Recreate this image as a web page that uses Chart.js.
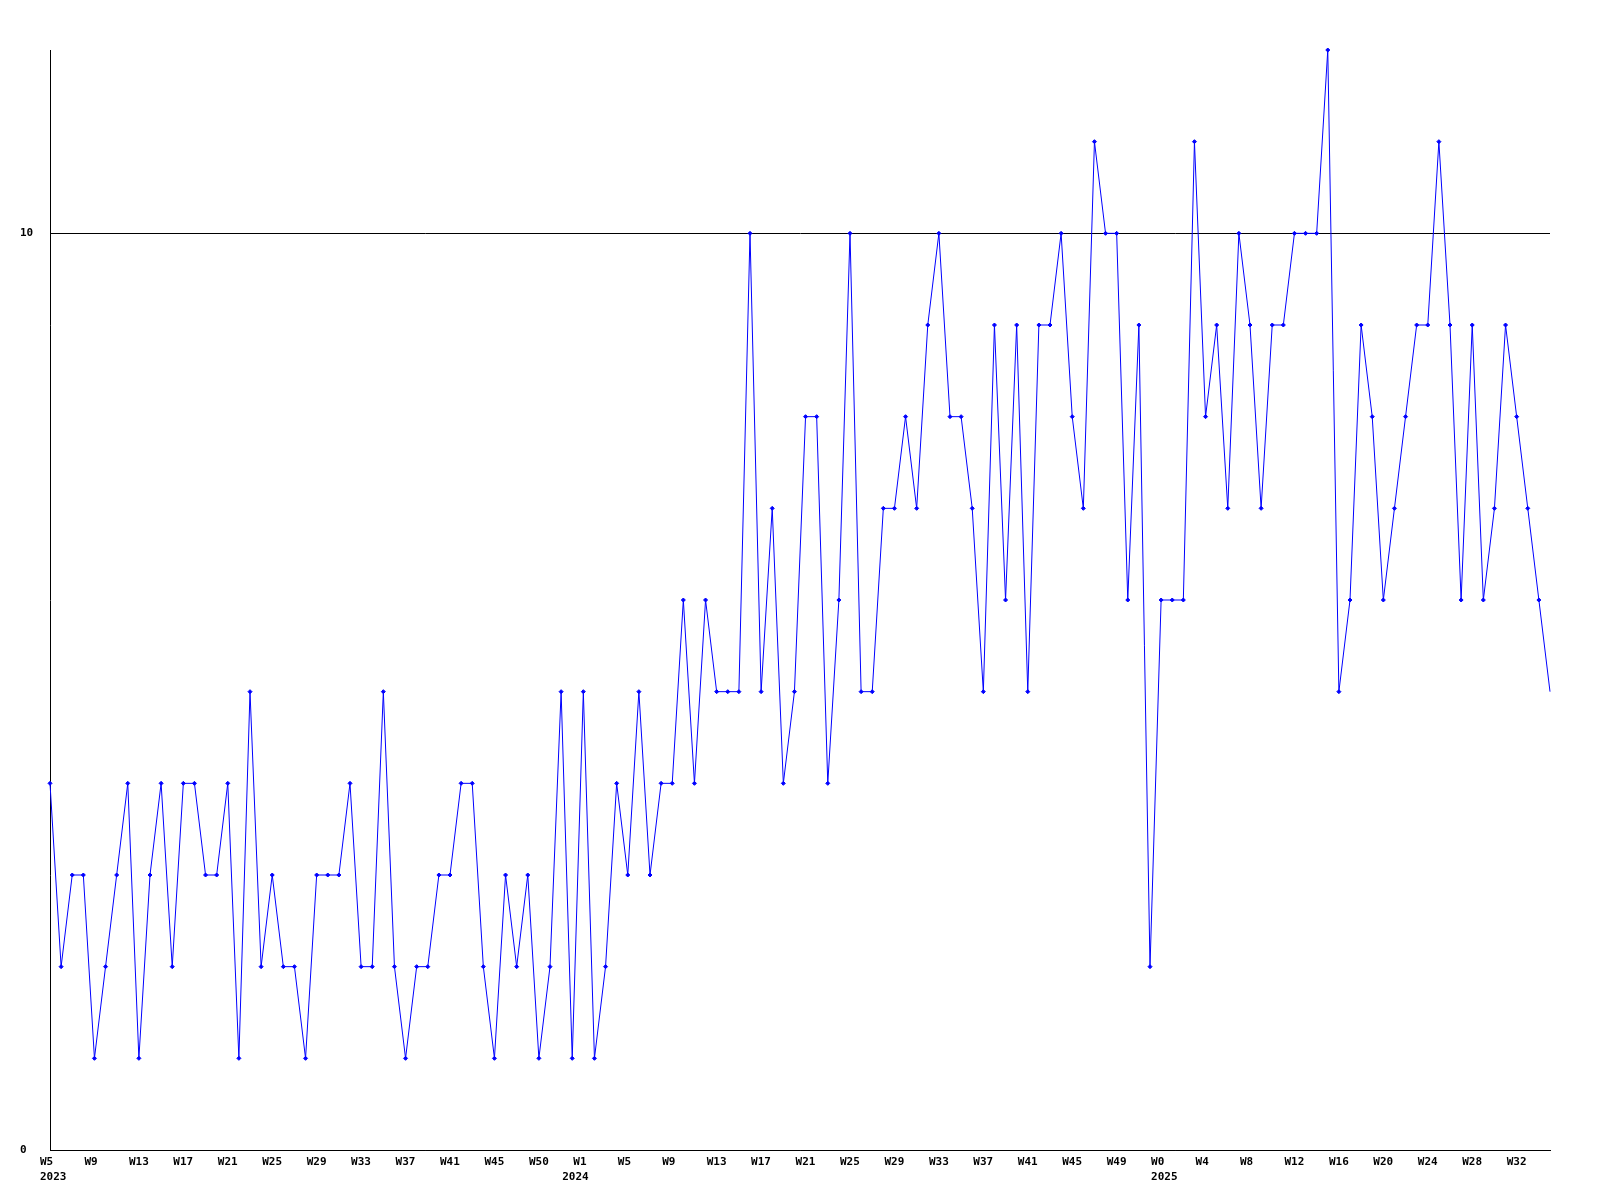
<!DOCTYPE html>
<html>
<head>
<meta charset="utf-8">
<title>weekly chart</title>
<script src="https://cdn.jsdelivr.net/npm/chart.js@4.4.1/dist/chart.umd.min.js"></script>
<style>
    body { margin: 0; background: #ffffff; }
    #weekChart { display: block; }
</style>
</head>
<body>
<canvas id="weekChart" width="1600" height="1200"></canvas>
<script>
// values per week
const values = [
    4, 2, 3, 3, 1, 2, 3, 4, 1, 3, 4, 2, 4, 4, 3, 3, 4, 1,
    5, 2, 3, 2, 2, 1, 3, 3, 3, 4, 2, 2, 5, 2, 1, 2, 2, 3,
    3, 4, 4, 2, 1, 3, 2, 3, 1, 2, 5, 1, 5, 1, 2, 4, 3, 5,
    3, 4, 4, 6, 4, 6, 5, 5, 5, 10, 5, 7, 4, 5, 8, 8, 4, 6,
    10, 5, 5, 7, 7, 8, 7, 9, 10, 8, 8, 7, 5, 9, 6, 9, 5, 9,
    9, 10, 8, 7, 11, 10, 10, 6, 9, 2, 6, 6, 6, 11, 8, 9, 7, 10,
    9, 7, 9, 9, 10, 10, 10, 12, 5, 6, 9, 8, 6, 7, 8, 9, 9, 11,
    9, 6, 9, 6, 7, 9, 8, 7, 6, 5
];

// one category per sample
const categories = values.map((v, i) => i);

// week label every 4th sample
const weekTicks = [
    'W5', 'W9', 'W13', 'W17', 'W21', 'W25', 'W29', 'W33', 'W37', 'W41', 'W45', 'W50',
    'W1', 'W5', 'W9', 'W13', 'W17', 'W21', 'W25', 'W29', 'W33', 'W37', 'W41', 'W45', 'W49',
    'W0', 'W4', 'W8', 'W12', 'W16', 'W20', 'W24', 'W28', 'W32'
];
const weekStep = 4;

// year labels and the sample where each year starts
const yearLabels = ['2023', '2024', '2025'];
const yearStart = [0, 47, 100];

const yTicks = [0, 10];

const tickFont = { family: "'DejaVu Sans Mono', monospace", size: 11, weight: 'bold', lineHeight: 1.32 };

document.addEventListener('DOMContentLoaded', () => {
    const ctx = document.getElementById('weekChart').getContext('2d');
    const weekChart = new Chart(ctx, {
        type: 'line',
        data: {
            labels: categories,
            datasets: [{
                data: values,
                borderColor: '#0000ff',
                backgroundColor: '#0000ff',
                borderWidth: 1,
                tension: 0,
                fill: false,
                clip: false,
                pointStyle: 'rectRot',
                pointRadius: (c) => c.dataIndex === values.length - 1 ? 0 : 2,
                pointBorderWidth: 1,
                pointBorderColor: '#0000ff',
                pointBackgroundColor: '#0000ff'
            }]
        },
        options: {
            responsive: false,
            animation: false,
            layout: {
                padding: { top: 50, left: 20, right: 50, bottom: 0 }
            },
            plugins: {
                legend: { display: false },
                tooltip: { enabled: false }
            },
            scales: {
                x: {
                    type: 'category',
                    grid: { display: false, drawTicks: false },
                    border: { display: true, color: '#000000', width: 1 },
                    afterFit: (scale) => { scale.height = 50; },
                    ticks: {
                        autoSkip: false,
                        maxRotation: 0,
                        minRotation: 0,
                        align: 'start',
                        labelOffset: -10,
                        padding: 5,
                        color: '#000000',
                        font: tickFont,
                        callback: function (value, index) {
                            const week = index % weekStep === 0 ? (weekTicks[index / weekStep] || '') : '';
                            const y = yearStart.indexOf(index);
                            if (y >= 0) {
                                return [week, yearLabels[y]];
                            }
                            return week;
                        }
                    }
                },
                y: {
                    min: 0,
                    max: 12,
                    afterBuildTicks: (scale) => {
                        scale.ticks = yTicks.map(v => ({ value: v }));
                    },
                    afterFit: (scale) => { scale.width = 30; },
                    grid: {
                        drawTicks: false,
                        color: '#000000',
                        lineWidth: 1
                    },
                    border: { display: true, color: '#000000', width: 1 },
                    ticks: {
                        crossAlign: 'far',
                        padding: 0,
                        color: '#000000',
                        font: tickFont
                    }
                }
            }
        }
    });
});
</script>
</body>
</html>
